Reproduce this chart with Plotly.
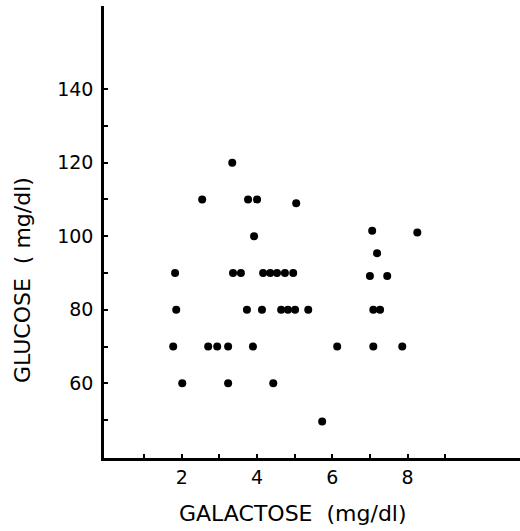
import plotly.graph_objects as go

# Data (galactose mg/dl, glucose mg/dl)
galactose = [3.34,
             2.54, 3.76, 4.00, 5.04,
             7.06, 8.26, 3.92, 7.19,
             1.82, 3.36, 3.57, 4.16, 4.35, 4.53, 4.74, 4.96, 7.00, 7.46,
             1.85, 3.73, 4.13, 4.64, 4.82, 5.01, 5.36, 7.09, 7.27,
             1.77, 2.70, 2.94, 3.23, 3.89, 6.13, 7.09, 7.86,
             2.01, 3.23, 4.43,
             5.73]
glucose = [120,
           110, 110, 110, 109,
           101.5, 101, 100, 95.4,
           90, 90, 90, 90, 90, 90, 90, 90, 89.2, 89.2,
           80, 80, 80, 80, 80, 80, 80, 80, 80,
           70, 70, 70, 70, 70, 70, 70, 70,
           60, 60, 60,
           49.6]

x_ticks = [1, 2, 3, 4, 5, 6, 7, 8, 9]
x_ticktext = ["", "2", "", "4", "", "6", "", "8", ""]
y_ticks = [50, 60, 70, 80, 90, 100, 110, 120, 130, 140]
y_ticktext = ["", "60", "", "80", "", "100", "", "120", "", "140"]

FONT = "DejaVu Sans, sans-serif"

fig = go.Figure()
fig.add_trace(go.Scatter(
    x=galactose, y=glucose, mode="markers",
    marker=dict(color="black", size=8, line=dict(width=0)),
    showlegend=False, hoverinfo="skip"))

fig.update_layout(
    width=520, height=531,
    margin=dict(l=104, r=0, t=6, b=73),
    paper_bgcolor="white", plot_bgcolor="white",
    font=dict(family=FONT, color="black", size=19),
    xaxis=dict(range=[-0.07, 10.99], tickvals=x_ticks, ticktext=x_ticktext,
               ticks="inside", ticklen=4, tickwidth=2, tickcolor="black",
               showline=True, linecolor="black", linewidth=2.5,
               showgrid=False, zeroline=False,
               tickfont=dict(size=19, color="black"), ticklabelstandoff=0),
    yaxis=dict(range=[39.7, 162.6], tickvals=y_ticks, ticktext=y_ticktext,
               ticks="inside", ticklen=4, tickwidth=2, tickcolor="black",
               showline=True, linecolor="black", linewidth=2.5,
               showgrid=False, zeroline=False,
               tickfont=dict(size=19, color="black"), ticklabelstandoff=4),
    annotations=[
        dict(text="GALACTOSE  (mg/dl)", xref="paper", yref="paper",
             x=(293 - 104) / 416, y=-(513 - 458) / 452, showarrow=False,
             font=dict(size=22, family=FONT, color="black"),
             xanchor="center", yanchor="middle"),
        dict(text="GLUCOSE  ( mg/dl)", xref="paper", yref="paper",
             x=-(104 - 22) / 416, y=(458 - 280) / 452, showarrow=False,
             textangle=-90,
             font=dict(size=22, family=FONT, color="black"),
             xanchor="center", yanchor="middle"),
    ],
)

fig.write_html("out.html", config={"displayModeBar": False},
               post_script="document.body.style.margin='0';")
